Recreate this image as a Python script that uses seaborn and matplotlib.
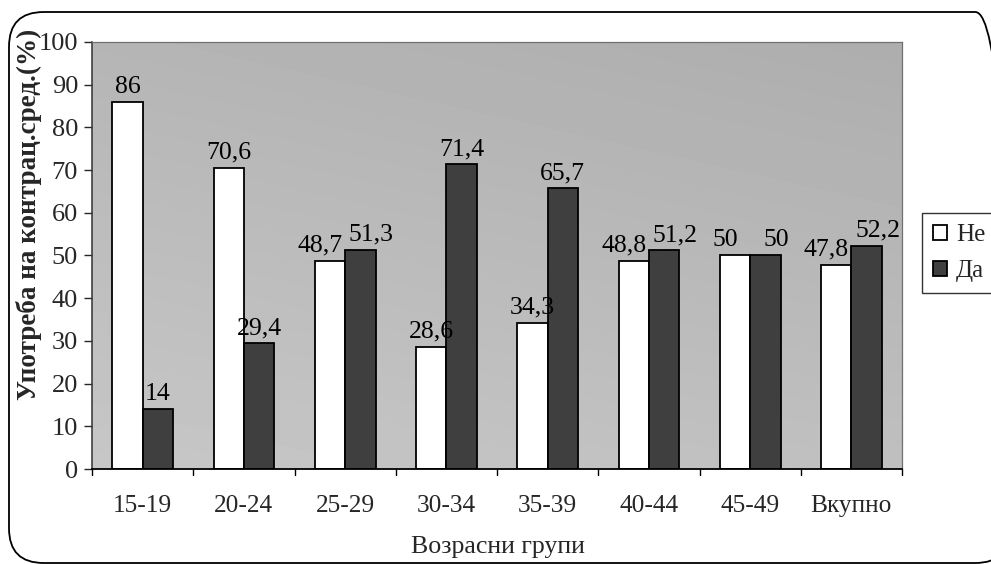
import matplotlib
matplotlib.use("Agg")
import matplotlib.pyplot as plt
from matplotlib.patches import FancyBboxPatch, Patch
from matplotlib.transforms import Bbox, TransformedBbox
import seaborn as sns
import pandas as pd
import numpy as np

categories = ["15-19", "20-24", "25-29", "30-34", "35-39", "40-44", "45-49", "Вкупно"]
series_names = ["Не", "Да"]
ne_values = [86, 70.6, 48.7, 28.6, 34.3, 48.8, 50, 47.8]
da_values = [14, 29.4, 51.3, 71.4, 65.7, 51.2, 50, 52.2]
y_ticks = [0, 10, 20, 30, 40, 50, 60, 70, 80, 90, 100]

df = pd.DataFrame({
    "group": categories * 2,
    "series": [series_names[0]] * len(categories) + [series_names[1]] * len(categories),
    "value": ne_values + da_values,
})

sns.set_theme(style="white")
plt.rcParams["font.family"] = ["Liberation Serif", "DejaVu Serif"]

W, H = 991, 564
fig = plt.figure(figsize=(W / 100, H / 100), dpi=100)
fig.patch.set_facecolor("white")
ax = fig.add_axes([92 / W, 1 - 469 / H, (902 - 92) / W, (469 - 42) / H])
ax.set_facecolor("#bcbcbc")

# soft background shading of the plot area (decorative)
gx, gy = np.meshgrid(np.linspace(0, 1, 200), np.linspace(0, 1, 120))
shade = 0.78 - 0.07 * gy - 0.03 * gx
ax.imshow(shade, cmap="gray", vmin=0, vmax=1, extent=(-0.5, len(categories) - 0.5, 0, 100),
          origin="lower", aspect="auto", zorder=0, interpolation="bilinear")

colors = {"Не": "white", "Да": "#3f3f3f"}
sns.barplot(data=df, x="group", y="value", hue="series", hue_order=series_names,
            palette=colors, edgecolor="black", linewidth=1.3, width=0.6, gap=0,
            dodge=True, ax=ax, legend=False, zorder=2)

def fmt(v):
    return f"{v:g}".replace(".", ",")

for si, cont in enumerate(ax.containers):
    for i, b in enumerate(cont):
        v = b.get_height()
        close = abs(ne_values[i] - da_values[i]) < 10
        dx = 0
        if close:
            dx = -7 if si == 0 else 8
        ax.annotate(fmt(v), (b.get_x() + b.get_width() / 2, v), xytext=(dx, 3),
                    textcoords="offset points", ha="center", va="bottom",
                    fontsize=18.5, color="black", zorder=5)

ax.set_ylim(0, 100)
ax.set_xlim(-0.5, len(categories) - 0.5)
ax.set_yticks(y_ticks)
ax.set_yticklabels([str(t) for t in y_ticks], fontsize=19)
ax.set_xticks(range(len(categories)))
ax.set_xticklabels(categories, fontsize=18.3)
ax.tick_params(axis="x", length=0, pad=19)
ax.tick_params(axis="y", length=6, width=1, direction="out", left=True, pad=4)
for i in range(len(categories) + 1):
    ax.plot([i - 0.5, i - 0.5], [0, -1.4], color="black", lw=1, clip_on=False)
ax.set_xlabel("")
ax.set_ylabel("")
for s in ["top", "right"]:
    ax.spines[s].set_color("#707070")
    ax.spines[s].set_linewidth(0.9)
ax.spines["left"].set_color("#333333")
ax.spines["bottom"].set_color("black")
ax.spines["left"].set_linewidth(1.1)
ax.spines["bottom"].set_linewidth(1.3)

fig.text(498 / W, 1 - 547 / H, "Возрасни групи", ha="center", va="center", fontsize=18.6)
yl = fig.text(29 / W, 1 - 400 / H, "Употреба на контрац.сред.(%)", rotation=90,
              ha="center", va="bottom", fontsize=19.5, fontweight="bold")
yl.set_clip_box(TransformedBbox(Bbox([[0, 0], [1, 1 - 21 / H]]), fig.transFigure))
yl.set_clip_on(True)

handles = [Patch(facecolor=colors[n], edgecolor="black", linewidth=1.3, label=n) for n in series_names]
leg = fig.legend(handles=handles, loc="upper left", bbox_to_anchor=(922 / W, 1 - 213 / H),
                 frameon=True, fancybox=False, fontsize=18, handlelength=0.55, handleheight=0.55,
                 handletextpad=0.35, borderpad=0.45, labelspacing=0.55, borderaxespad=0)
leg.get_frame().set_edgecolor("black")
leg.get_frame().set_linewidth(1)

frame = FancyBboxPatch((9 / W, 1 - 563 / H), (1010 - 9) / W, (563 - 12) / H,
                       boxstyle="round,pad=0,rounding_size=0.035", transform=fig.transFigure,
                       facecolor="none", edgecolor="black", linewidth=1.3, clip_on=False,
                       mutation_aspect=W / H)
fig.patches.append(frame)

fig.savefig("out.png", dpi=100)
